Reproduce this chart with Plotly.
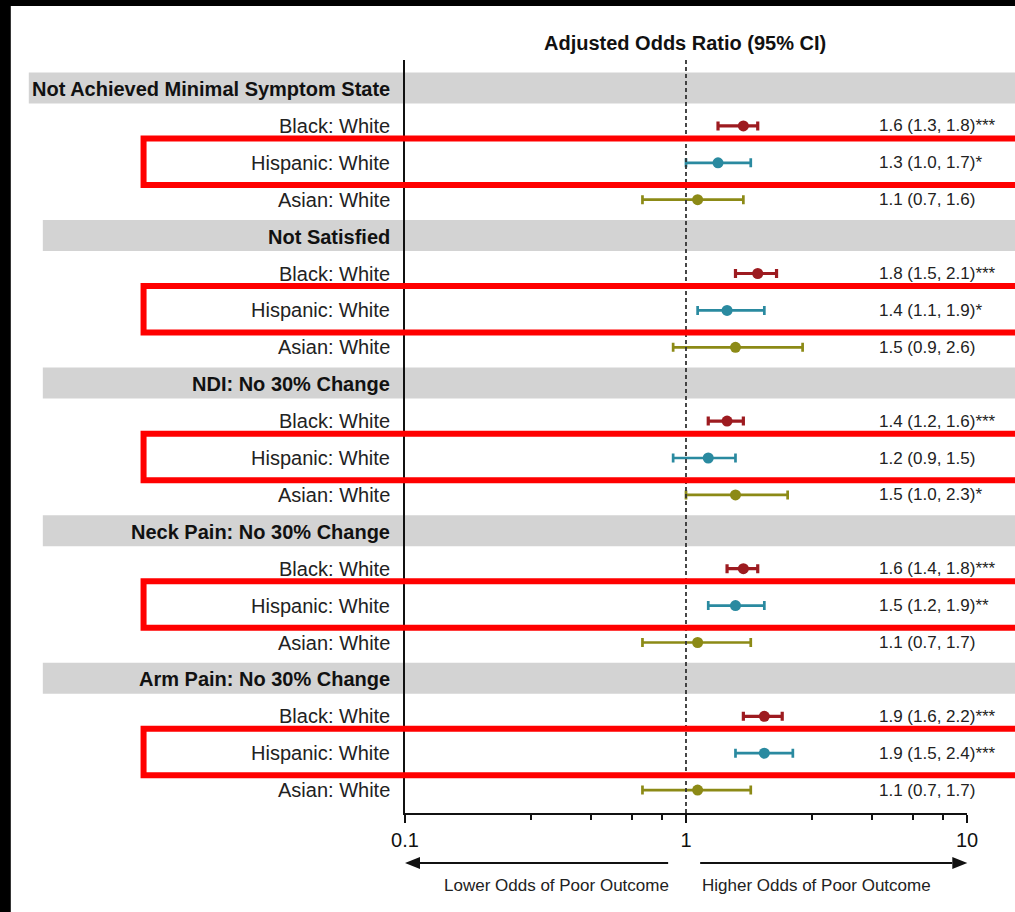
import plotly.graph_objects as go

# ---- data -------------------------------------------------------------
outcomes = [
    "Not Achieved Minimal Symptom State",
    "Not Satisfied",
    "NDI: No 30% Change",
    "Neck Pain: No 30% Change",
    "Arm Pain: No 30% Change",
]
groups = ["Black: White", "Hispanic: White", "Asian: White"]

black_or = [1.6, 1.8, 1.4, 1.6, 1.9]
black_lo = [1.3, 1.5, 1.2, 1.4, 1.6]
black_hi = [1.8, 2.1, 1.6, 1.8, 2.2]
black_sig = ["***", "***", "***", "***", "***"]

hisp_or = [1.3, 1.4, 1.2, 1.5, 1.9]
hisp_lo = [1.0, 1.1, 0.9, 1.2, 1.5]
hisp_hi = [1.7, 1.9, 1.5, 1.9, 2.4]
hisp_sig = ["*", "*", "", "**", "***"]

asian_or = [1.1, 1.5, 1.5, 1.1, 1.1]
asian_lo = [0.7, 0.9, 1.0, 0.7, 0.7]
asian_hi = [1.6, 2.6, 2.3, 1.7, 1.7]
asian_sig = ["", "", "*", "", ""]

x_tickvals = [0.1, 1, 10]
x_ticktext = ["0.1", "1", "10"]
x_minor = [0.28, 0.46, 0.64, 0.82, 2.8, 4.6, 6.4, 8.2]

title_text = "Adjusted Odds Ratio (95% CI)"
lower_text = "Lower Odds of Poor Outcome"
higher_text = "Higher Odds of Poor Outcome"

# ---- styling / geometry ----------------------------------------------
FIG_W, FIG_H = 1015, 912
PLOT_L, PLOT_R, PLOT_T, PLOT_B = 405, 966.7, 60, 813
ROW0_PX, ROW_PX = 89, 36.9          # pixel centre of first row, row pitch
FONT = "Liberation Sans, Arial, sans-serif"

RED = "#9d1b20"
TEAL = "#2a8aa0"
OLIVE = "#8c8a16"
BAND = "#d3d3d3"
BOX_RED = "#ff0000"


def px(x):
    """horizontal pixel -> paper coordinate"""
    return (x - PLOT_L) / (PLOT_R - PLOT_L)


def py(y):
    """vertical pixel -> paper coordinate"""
    return (PLOT_B - y) / (PLOT_B - PLOT_T)


def row_of(pix):
    return (pix - ROW0_PX) / ROW_PX


header_rows = [k * 4 for k in range(len(outcomes))]

series = [
    (black_or, black_lo, black_hi, black_sig, RED, 1, 3.2),
    (hisp_or, hisp_lo, hisp_hi, hisp_sig, TEAL, 2, 2.7),
    (asian_or, asian_lo, asian_hi, asian_sig, OLIVE, 3, 2.7),
]

fig = go.Figure()
annotations = []
shapes = []

# black frame pieces along the left and top edges
shapes.append(dict(type="rect", xref="paper", yref="paper",
                   x0=px(-5), x1=px(11), y0=py(FIG_H + 5), y1=py(-5),
                   fillcolor="black", line=dict(width=0), layer="above"))
shapes.append(dict(type="rect", xref="paper", yref="paper",
                   x0=px(-5), x1=px(FIG_W + 5), y0=py(6), y1=py(-5),
                   fillcolor="black", line=dict(width=0), layer="above"))

# grey header bands
for k, r in enumerate(header_rows):
    left = 29 if k == 0 else 43
    shapes.append(dict(type="rect", xref="paper", yref="y",
                       x0=px(left), x1=px(FIG_W + 20), y0=r - 0.45, y1=r + 0.39,
                       fillcolor=BAND, line=dict(width=0), layer="below"))

# reference line at OR = 1
shapes.append(dict(type="line", xref="x", yref="paper", x0=1, x1=1, y0=0, y1=1,
                   line=dict(color="#333333", width=1.8, dash="4px,3px"),
                   layer="above"))

# row text: headers and comparisons
for k, name in enumerate(outcomes):
    r = header_rows[k]
    annotations.append(dict(xref="paper", yref="y", x=px(392), y=r,
                            text="<b>%s</b>" % name, showarrow=False,
                            xanchor="right", yanchor="middle",
                            font=dict(family=FONT, size=20, color="#111111")))
    for g, gname in enumerate(groups):
        annotations.append(dict(xref="paper", yref="y", x=px(392), y=r + g + 1,
                                text=gname, showarrow=False,
                                xanchor="right", yanchor="middle",
                                font=dict(family=FONT, size=20, color="#222222")))

# estimates with confidence intervals
for est, lo, hi, sig, color, offset, lw in series:
    rows = [h + offset for h in header_rows]
    fig.add_trace(go.Scatter(
        x=est, y=rows, mode="markers",
        marker=dict(size=11, color=color, line=dict(width=0)),
        error_x=dict(type="data", symmetric=False,
                     array=[h - e for h, e in zip(hi, est)],
                     arrayminus=[e - l for e, l in zip(est, lo)],
                     color=color, thickness=lw, width=4.5),
        showlegend=False, hoverinfo="skip", cliponaxis=False,
    ))
    for e, l, h, s, r in zip(est, lo, hi, sig, rows):
        annotations.append(dict(xref="paper", yref="y", x=px(877), y=r,
                                text="%.1f (%.1f, %.1f)%s" % (e, l, h, s),
                                showarrow=False, xanchor="left", yanchor="middle",
                                font=dict(family=FONT, size=17, color="#222222")))

# highlight boxes around the Hispanic comparisons
for r in header_rows:
    hr = r + 2
    shapes.append(dict(type="rect", xref="paper", yref="y",
                       x0=px(143.7), x1=px(FIG_W + 30), y0=hr - 0.66, y1=hr + 0.60,
                       line=dict(color=BOX_RED, width=6), fillcolor="rgba(0,0,0,0)",
                       layer="above"))

# title
annotations.append(dict(xref="paper", yref="paper", x=px(685), y=py(43),
                        text="<b>%s</b>" % title_text, showarrow=False,
                        xanchor="center", yanchor="middle",
                        font=dict(family=FONT, size=20, color="#111111")))

# direction arrows and captions below the axis
ARROW_Y = 863
for x_tail, x_tip in [(668, 405), (700, 967)]:
    sign = 1 if x_tip > x_tail else -1
    base = x_tip - sign * 15
    shapes.append(dict(type="line", xref="paper", yref="paper",
                       x0=px(x_tail), x1=px(base), y0=py(ARROW_Y), y1=py(ARROW_Y),
                       line=dict(color="#111111", width=2)))
    shapes.append(dict(type="path", xref="paper", yref="paper",
                       path="M %f %f L %f %f L %f %f Z" % (
                           px(x_tip), py(ARROW_Y),
                           px(base), py(ARROW_Y - 6),
                           px(base), py(ARROW_Y + 6)),
                       fillcolor="#111111", line=dict(width=0)))

annotations.append(dict(xref="paper", yref="paper", x=px(671), y=py(886),
                        text=lower_text, showarrow=False,
                        xanchor="right", yanchor="middle",
                        font=dict(family=FONT, size=17, color="#222222")))
annotations.append(dict(xref="paper", yref="paper", x=px(700), y=py(886),
                        text=higher_text, showarrow=False,
                        xanchor="left", yanchor="middle",
                        font=dict(family=FONT, size=17, color="#222222")))

fig.update_layout(
    width=FIG_W, height=FIG_H,
    margin=dict(l=PLOT_L, r=FIG_W - PLOT_R, t=PLOT_T, b=FIG_H - PLOT_B, pad=0),
    paper_bgcolor="white", plot_bgcolor="white",
    font=dict(family=FONT, color="#111111"),
    shapes=shapes, annotations=annotations,
    xaxis=dict(type="log", range=[-1, 1], showgrid=False, zeroline=False,
               showline=True, linecolor="#111111", linewidth=2,
               tickmode="array", tickvals=x_tickvals, ticktext=x_ticktext,
               ticks="outside", ticklen=8, tickwidth=2, tickcolor="#111111",
               tickfont=dict(family=FONT, size=20, color="#111111"),
               minor=dict(tickmode="array", tickvals=x_minor, ticks="outside",
                          ticklen=5, tickwidth=2, tickcolor="#111111",
                          showgrid=False)),
    yaxis=dict(range=[row_of(PLOT_B), row_of(PLOT_T)], showgrid=False,
               zeroline=False, showticklabels=False, ticks="",
               showline=True, linecolor="#111111", linewidth=2),
)

fig.write_html("out.html")
